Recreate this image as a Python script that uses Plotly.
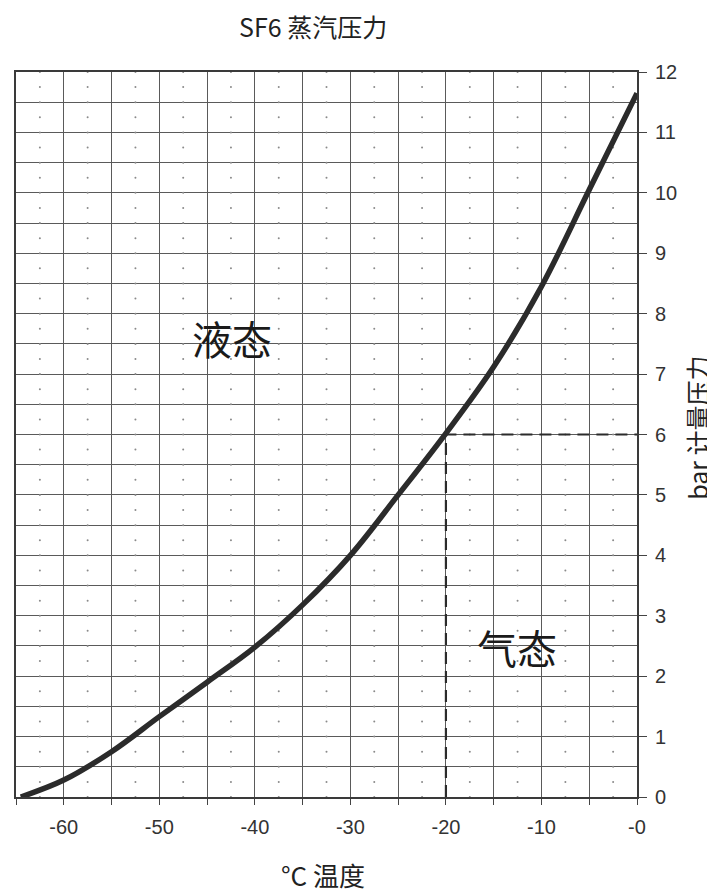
import plotly.graph_objects as go

# Data
temps_c = [-64.5, -60, -55, -50, -45, -40, -35, -30, -25, -20, -15, -10, -5, 0]
pressure_bar = [0.0, 0.28, 0.75, 1.33, 1.9, 2.48, 3.18, 4.0, 5.0, 6.02, 7.12, 8.45, 10.05, 11.65]

x_ticks = [-65, -60, -55, -50, -45, -40, -35, -30, -25, -20, -15, -10, -5, 0]
x_ticktext = ["", "-60", "", "-50", "", "-40", "", "-30", "", "-20", "", "-10", "", "-0"]
y_ticks = list(range(0, 13))

marker_temp = [-20, -20, 0]
marker_press = [0, 6, 6]

# decorative dot grid (midpoints of cells, every quarter bar)
dot_x = [x + 2.5 for x in x_ticks[:-1]]
dot_y = [q / 4 for q in range(0, 49)]
dx, dy = [], []
for xv in dot_x:
    for yv in dot_y:
        dx.append(xv)
        dy.append(yv)

fig = go.Figure()
fig.add_trace(go.Scatter(x=dx, y=dy, mode="markers",
                         marker=dict(size=2, color="#8a8a8a"),
                         hoverinfo="skip", showlegend=False))
fig.add_trace(go.Scatter(x=marker_temp, y=marker_press, mode="lines",
                         line=dict(color="#2b2b2b", width=2.2, dash="12px,7px"),
                         showlegend=False))
fig.add_trace(go.Scatter(x=temps_c, y=pressure_bar, mode="lines",
                         line=dict(color="#2b2b2b", width=5.5, shape="spline", smoothing=1.0),
                         showlegend=False))

cjk = "Noto Sans CJK SC"
num_font = dict(family="Liberation Sans, Arial", size=20, color="#333")
grid_c = "#5a5a5a"

# page body has an 8px margin; figure sized so plot area lands at x 14..637, y 72..797
W, H = 707, 886
ML, MR, MT, MB = 6, 78, 64, 97

fig.update_layout(
    width=W, height=H,
    margin=dict(l=ML, r=MR, t=MT, b=MB),
    paper_bgcolor="white", plot_bgcolor="white",
    xaxis=dict(range=[-65, 0], tickvals=x_ticks, ticktext=x_ticktext,
               showgrid=True, gridcolor=grid_c, gridwidth=1,
               showline=True, mirror=True, linecolor="#3a3a3a", linewidth=2,
               ticks="outside", ticklen=6, tickcolor="#444", tickwidth=1,
               ticklabelstandoff=5,
               tickfont=num_font, zeroline=False),
    yaxis=dict(range=[0, 12], side="right", tickvals=y_ticks,
               showgrid=True, gridcolor=grid_c, gridwidth=1,
               minor=dict(dtick=0.5, showgrid=True, gridcolor=grid_c, gridwidth=1, ticks=""),
               showline=True, mirror=True, linecolor="#3a3a3a", linewidth=2,
               ticks="outside", ticklen=8, tickcolor="#444", tickwidth=1,
               ticklabelstandoff=4,
               tickfont=num_font, zeroline=False),
)

pw = W - ML - MR
ph = H - MT - MB
def px(xp):
    return (xp - 8 - ML) / pw
def py(yp):
    return (H - MB - (yp - 8)) / ph

common = dict(xref="paper", yref="paper", showarrow=False, xanchor="center", yanchor="middle")
fig.update_layout(annotations=[
    dict(text="SF6 蒸汽压力", x=px(312), y=py(26),
         font=dict(family=cjk, size=25, color="#222"), **common),
    dict(text="°C 温度", x=px(322), y=py(874),
         font=dict(family=cjk, size=26, color="#222"), **common),
    dict(text="bar 计量压力", textangle=-90, x=px(697), y=py(428),
         font=dict(family=cjk, size=25, color="#222"), **common),
    dict(text="液态", x=-42.4, y=7.6, xref="x", yref="y", xanchor="center", yanchor="middle",
         showarrow=False, font=dict(family=cjk, size=40, color="#1a1a1a")),
    dict(text="气态", x=-12.6, y=2.48, xref="x", yref="y", xanchor="center", yanchor="middle",
         showarrow=False, font=dict(family=cjk, size=40, color="#1a1a1a")),
])

fig.write_html("out.html")
